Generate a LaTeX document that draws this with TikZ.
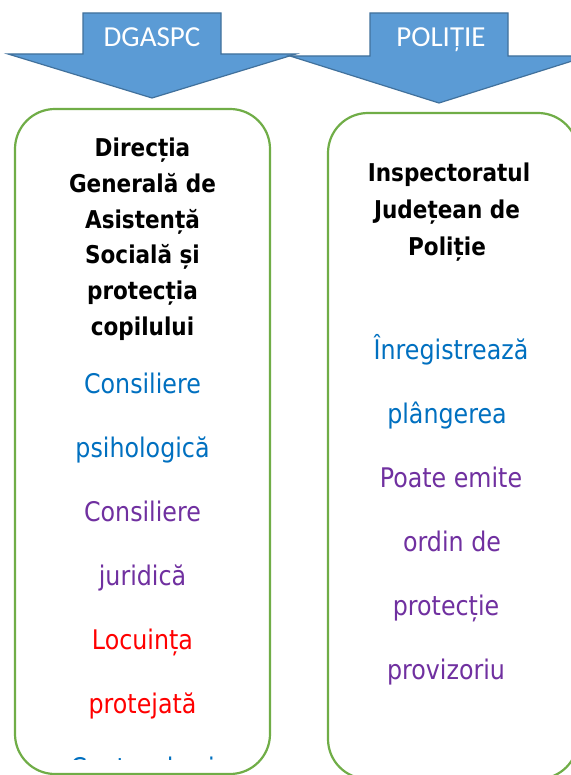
\documentclass[tikz,border=0pt]{standalone}
\usepackage{fontspec}
\newfontfamily\bodyfont{DejaVu Sans}[FakeStretch=0.88]
\newfontfamily\titlefont{Carlito}
\definecolor{arrfill}{HTML}{5B9BD5}
\definecolor{arrline}{HTML}{41719C}
\definecolor{boxline}{HTML}{70AD47}
\definecolor{tblue}{HTML}{0070C0}
\definecolor{tpurple}{HTML}{7030A0}
\definecolor{tred}{HTML}{FF0000}
\begin{document}
\begin{tikzpicture}[x=1pt,y=-1pt,
  arrowshape/.style={fill=arrfill,draw=arrline,line width=1.2pt,line join=miter},
  panel/.style={draw=boxline,line width=2.2pt,rounded corners=40pt},
  title/.style={text=white,font=\titlefont\fontsize{29}{29}\selectfont,anchor=base,inner sep=0pt},
  head/.style={font=\bodyfont\bfseries\fontsize{24.5}{24.5}\selectfont,anchor=base,inner sep=0pt},
  item/.style={font=\bodyfont\fontsize{27}{27}\selectfont,anchor=base,inner sep=0pt},
]
\useasboundingbox (0,0) rectangle (570,775);
\fill[white] (0,0) rectangle (570,775);
% panels
\draw[panel] (15,109) rectangle (270,774);
\draw[panel] (328,113) rectangle (578,779);
% arrows
\draw[arrowshape] (83,13) -- (221,13) -- (221,54) -- (296,54) -- (152,98) -- (8,54) -- (83,54) -- cycle;
\draw[arrowshape] (370,13) -- (508,13) -- (508,56) -- (588,56) -- (439,103) -- (290,56) -- (370,56) -- cycle;
\node[title] (tl) at (152,47) {DGASPC};
\node[title] (tr) at (441,47) {POLIȚIE};
% left panel headings
\node[head] (l1) at (142.5,157) {Direcția};
\node[head] (l2) at (142.5,192.6) {Generală de};
\node[head] (l3) at (142.5,228.2) {Asistență};
\node[head] (l4) at (142.5,263.8) {Socială și};
\node[head] (l5) at (142.5,299.4) {protecția};
\node[head] (l6) at (142.5,335) {copilului};
% left panel items
\node[item,text=tblue] (a1) at (142.5,393) {Consiliere};
\node[item,text=tblue] (a2) at (142.5,457) {psihologică};
\node[item,text=tpurple] (a3) at (142.5,521) {Consiliere};
\node[item,text=tpurple] (a4) at (142.5,585) {juridică};
\node[item,text=tred] (a5) at (142.5,649) {Locuința};
\node[item,text=tred] (a6) at (142.5,713) {protejată};
\begin{scope}
\clip (20,745) rectangle (265,759.5);
\node[item,text=tblue] (a7) at (142.5,777) {Centru de zi};
\end{scope}
% right panel headings
\node[head] (r1) at (449,182) {Inspectoratul};
\node[head] (r2) at (447,218.5) {Județean de};
\node[head] (r3) at (447,255) {Poliție};
% right panel items
\node[item,text=tblue] (b1) at (451,359) {Înregistrează};
\node[item,text=tblue] (b2) at (447,423) {plângerea};
\node[item,text=tpurple] (b3) at (451,487) {Poate emite};
\node[item,text=tpurple] (b4) at (452,551) {ordin de};
\node[item,text=tpurple] (b5) at (446,615) {protecție};
\node[item,text=tpurple] (b6) at (446,679) {provizoriu};
\end{tikzpicture}
\end{document}
